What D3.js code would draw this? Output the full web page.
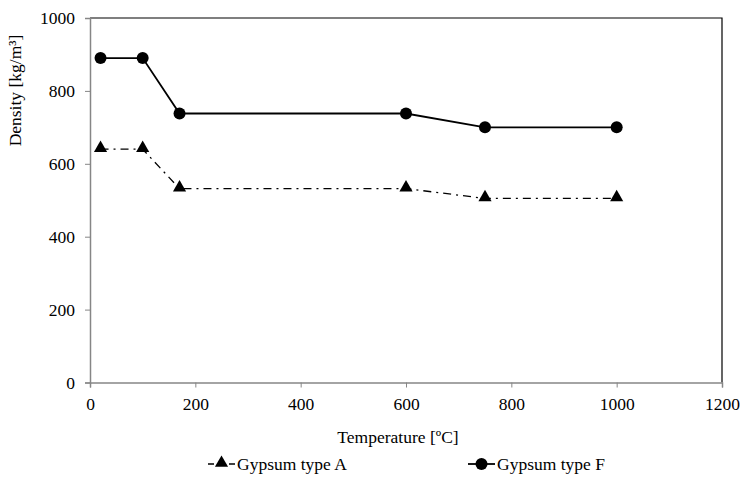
<!DOCTYPE html>
<html>
<head>
<meta charset="utf-8">
<script src="https://d3js.org/d3.v7.min.js"></script>
<style>
  body { margin: 0; background: #fff; }
</style>
</head>
<body>
<div id="chart"></div>
<script>
// Data
const temperature = [20, 100, 170, 600, 750, 1000];
const densityA = [640, 640, 532, 532, 505, 505];
const densityF = [890, 890, 738, 738, 700, 700];
const xTicks = [0, 200, 400, 600, 800, 1000, 1200];
const yTicks = [0, 200, 400, 600, 800, 1000];
const seriesNames = ["Gypsum type A", "Gypsum type F"];

const FONT = "Liberation Serif, Times New Roman, serif";
const FS = 17.5;
const W = 745, H = 483;
const margin = {top: 18, right: 23, bottom: 100.5, left: 90};
const width = W - margin.left - margin.right;
const height = H - margin.top - margin.bottom;

const svg = d3.select("#chart").append("svg")
    .attr("width", W)
    .attr("height", H)
    .attr("font-family", FONT);

const g = svg.append("g")
    .attr("transform", `translate(${margin.left},${margin.top})`);

const x = d3.scaleLinear().domain([0, 1200]).range([0, width]);
const y = d3.scaleLinear().domain([0, 1000]).range([height, 0]);

// top and right frame
g.append("path")
    .attr("d", `M0,0H${width}V${height}`)
    .attr("fill", "none")
    .attr("stroke", "#000")
    .attr("stroke-width", 1.2);

// X axis
const xAxis = g.append("g")
    .attr("transform", `translate(0,${height})`)
    .call(d3.axisBottom(x).tickValues(xTicks).tickSize(5).tickPadding(10).tickFormat(d3.format("d")));
// Y axis
const yAxis = g.append("g")
    .call(d3.axisLeft(y).tickValues(yTicks).tickSize(5).tickPadding(10).tickFormat(d3.format("d")));

[xAxis, yAxis].forEach(a => {
    a.attr("font-family", FONT).attr("font-size", FS);
    a.select(".domain").attr("stroke", "#868686").attr("stroke-width", 1.5);
    a.selectAll(".tick line").attr("stroke", "#868686");
    a.selectAll("text")
        .attr("font-family", FONT)
        .attr("font-size", FS)
        .attr("fill", "#000");
});

// axis titles
g.append("text")
    .attr("x", width / 2 - 8)
    .attr("y", height + 60.5)
    .attr("text-anchor", "middle")
    .attr("font-family", FONT)
    .attr("font-size", FS)
    .text("Temperature [ºC]");

g.append("text")
    .attr("transform", "rotate(-90)")
    .attr("x", -72.5)
    .attr("y", -69)
    .attr("text-anchor", "middle")
    .attr("font-family", FONT)
    .attr("font-size", FS)
    .text("Density [kg/m³]");

const line = d3.line()
    .x(d => x(d[0]))
    .y(d => y(d[1]));

const dataA = temperature.map((t, i) => [t, densityA[i]]);
const dataF = temperature.map((t, i) => [t, densityF[i]]);

g.append("path")
    .datum(dataA)
    .attr("d", line)
    .attr("fill", "none")
    .attr("stroke", "#000")
    .attr("stroke-width", 1.3)
    .attr("stroke-dasharray", "8,5,2,5");

g.append("path")
    .datum(dataF)
    .attr("d", line)
    .attr("fill", "none")
    .attr("stroke", "#000")
    .attr("stroke-width", 1.8);

const tri = d3.symbol().type(d3.symbolTriangle).size(75);

g.selectAll(".ptA")
    .data(dataA)
    .enter().append("path")
    .attr("d", tri)
    .attr("transform", d => `translate(${x(d[0])},${y(d[1]) - 1})`)
    .attr("fill", "#000");

g.selectAll(".ptF")
    .data(dataF)
    .enter().append("circle")
    .attr("cx", d => x(d[0]))
    .attr("cy", d => y(d[1]))
    .attr("r", 6)
    .attr("fill", "#000");

// Legend
const legendY = 464;
const legendX = [208, 468];
seriesNames.forEach((name, i) => {
    const lg = svg.append("g").attr("transform", `translate(${legendX[i]},${legendY})`);
    lg.append("line")
        .attr("x1", 0).attr("x2", 27)
        .attr("y1", 0).attr("y2", 0)
        .attr("stroke", "#000")
        .attr("stroke-width", i === 0 ? 1.5 : 1.8)
        .attr("stroke-dasharray", i === 0 ? "6,15,6" : null);
    if (i === 0) {
        lg.append("path").attr("d", tri).attr("transform", "translate(13.5,-1)").attr("fill", "#000");
    } else {
        lg.append("circle").attr("cx", 13.5).attr("cy", 0).attr("r", 6).attr("fill", "#000");
    }
    lg.append("text")
        .attr("x", 29)
        .attr("y", 5.5)
        .attr("font-family", FONT)
        .attr("font-size", FS)
        .text(name);
});
</script>
</body>
</html>
